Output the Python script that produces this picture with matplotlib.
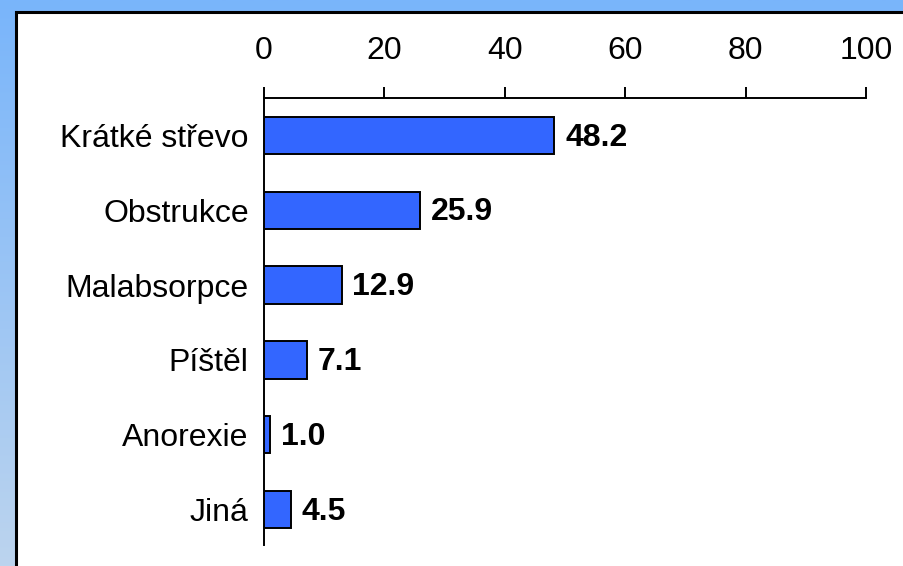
import matplotlib
matplotlib.use("Agg")
import matplotlib.pyplot as plt
import numpy as np
from matplotlib.patches import Rectangle
from matplotlib import font_manager

categories = ["Krátké střevo", "Obstrukce", "Malabsorpce", "Píštěl", "Anorexie", "Jiná"]
values = [48.2, 25.9, 12.9, 7.1, 1.0, 4.5]
xticks = [0, 20, 40, 60, 80, 100]

names = {f.name for f in font_manager.fontManager.ttflist}
narrow = 'Liberation Sans Narrow' in names
print("narrow available:", narrow)
plt.rcParams['font.family'] = ['Liberation Sans Narrow' if narrow else 'Liberation Sans', 'DejaVu Sans']
FS = 28 if narrow else 23

W, H = 904, 566
fig = plt.figure(figsize=(W / 100, H / 100), dpi=100)

# background gradient
bg = fig.add_axes([0, 0, 1, 1], zorder=0)
top = np.array([0x79, 0xb5, 0xfb]) / 255
bot = np.array([0xbc, 0xd4, 0xee]) / 255
t = np.linspace(0, 1, 256)[:, None]
grad = top[None, :] * (1 - t) + bot[None, :] * t
bg.imshow(grad[:, None, :], aspect='auto', extent=[0, 1, 0, 1], origin='upper')
bg.set_xlim(0, 1)
bg.set_ylim(0, 1)
bg.axis('off')
# white panel
bg.add_patch(Rectangle((16 / W, -0.1), 1.0, 1 - 12 / H + 0.1, facecolor='white',
                       edgecolor='black', linewidth=2.2))

left = 264 / W
right = 866 / W
ytop = 1 - 98 / H
ybot = 1 - 547 / H
ax = fig.add_axes([left, ybot, right - left, ytop - ybot], zorder=1)
ax.patch.set_alpha(0)

y = np.arange(len(categories))
ax.barh(y, values, height=0.5, color='#3366ff', edgecolor='black', linewidth=1.4, zorder=3)
for yi, v in zip(y, values):
    ax.text(v + 1.8, yi + 0.03, f"{v:.1f}", va='center', ha='left', fontsize=FS,
            fontweight='bold', color='black')

ax.set_xlim(0, 100)
ax.set_ylim(len(categories) - 0.5, -0.5)
ax.set_yticks(y)
ax.set_yticklabels(categories, fontsize=FS)
ax.set_xticks(xticks)
ax.set_xticklabels([str(v) for v in xticks], fontsize=FS)
ax.xaxis.tick_top()
ax.tick_params(axis='x', direction='out', length=8, width=1.4, pad=15)
ax.tick_params(axis='y', length=0, pad=11)
for s in ['right', 'bottom']:
    ax.spines[s].set_visible(False)
for s in ['top', 'left']:
    ax.spines[s].set_linewidth(1.4)
ax.spines['left'].set_bounds(len(categories) - 0.53, -0.5)

fig.savefig("out.png", dpi=100)
